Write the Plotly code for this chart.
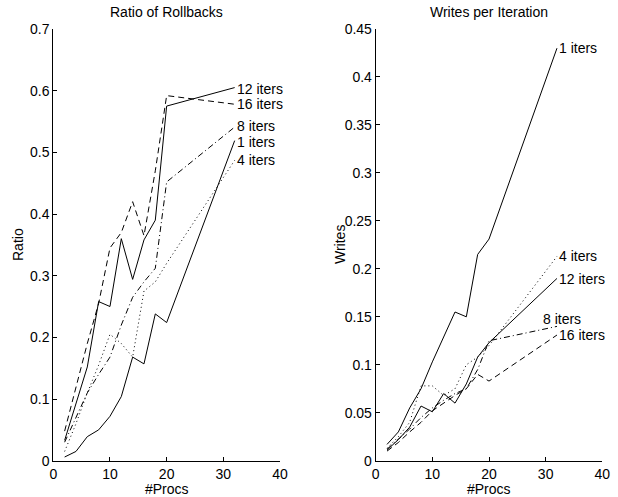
import plotly.graph_objects as go


# ==========================================================
# Data
# ==========================================================

procs = [2, 4, 6, 8, 10, 12, 14, 16, 18, 20, 32]

series_names = ["1 iters", "4 iters", "8 iters", "12 iters", "16 iters"]

# Ratio of rollbacks
ratio_1 = [0.006, 0.015, 0.039, 0.050, 0.072, 0.104, 0.168, 0.157, 0.238, 0.224, 0.519]
ratio_4 = [0.015, 0.060, 0.110, 0.155, 0.205, 0.190, 0.168, 0.275, 0.290, 0.320, 0.487]
ratio_8 = [0.030, 0.070, 0.110, 0.140, 0.168, 0.220, 0.265, 0.290, 0.312, 0.452, 0.541]
ratio_12 = [0.033, 0.092, 0.152, 0.258, 0.250, 0.360, 0.294, 0.358, 0.390, 0.575, 0.605]
ratio_16 = [0.048, 0.120, 0.190, 0.255, 0.345, 0.370, 0.420, 0.365, 0.470, 0.592, 0.578]

# Writes per iteration
writes_1 = [0.017, 0.030, 0.055, 0.075, 0.103, 0.129, 0.155, 0.150, 0.215, 0.231, 0.430]
writes_4 = [0.013, 0.025, 0.040, 0.078, 0.078, 0.068, 0.075, 0.100, 0.108, 0.120, 0.213]
writes_8 = [0.012, 0.022, 0.033, 0.045, 0.055, 0.063, 0.070, 0.075, 0.095, 0.125, 0.140]
writes_12 = [0.011, 0.022, 0.035, 0.057, 0.051, 0.070, 0.060, 0.080, 0.108, 0.123, 0.190]
writes_16 = [0.010, 0.019, 0.030, 0.040, 0.052, 0.060, 0.068, 0.075, 0.090, 0.083, 0.131]

ratio_ticks = [0, 0.1, 0.2, 0.3, 0.4, 0.5, 0.6, 0.7]
writes_ticks = [0, 0.05, 0.1, 0.15, 0.2, 0.25, 0.3, 0.35, 0.4, 0.45]
proc_ticks = [0, 10, 20, 30, 40]

ratio_data = [ratio_1, ratio_4, ratio_8, ratio_12, ratio_16]
writes_data = [writes_1, writes_4, writes_8, writes_12, writes_16]

# ==========================================================
# Styling
# ==========================================================

W, H = 618, 497


def px(x):
    return x / W


def py(y):
    return 1 - y / H


FONT = "Liberation Sans, Arial, Helvetica, sans-serif"
dashes = {
    "1 iters": "solid",
    "4 iters": "1px,3px",
    "8 iters": "6px,3px,1px,3px",
    "12 iters": "solid",
    "16 iters": "6px,4px",
}

# end label positions
ratio_label_y = {"1 iters": 0.517, "4 iters": 0.487, "8 iters": 0.543,
                 "12 iters": 0.603, "16 iters": 0.579}
writes_label_y = {"1 iters": 0.430, "4 iters": 0.213, "8 iters": 0.148,
                  "12 iters": 0.189, "16 iters": 0.131}
writes_label_x = {"1 iters": 32, "4 iters": 32, "8 iters": 29.2,
                  "12 iters": 32, "16 iters": 32}

fig = go.Figure()

for name, vals in zip(series_names, ratio_data):
    fig.add_trace(go.Scatter(
        x=procs, y=vals, mode="lines", name=name,
        line={"color": "black", "width": 1, "dash": dashes[name]},
        xaxis="x", yaxis="y", showlegend=False,
    ))

for name, vals in zip(series_names, writes_data):
    fig.add_trace(go.Scatter(
        x=procs, y=vals, mode="lines", name=name,
        line={"color": "black", "width": 1, "dash": dashes[name]},
        xaxis="x2", yaxis="y2", showlegend=False,
    ))

annotations = []

for name in series_names:
    annotations.append(dict(
        x=procs[-1], y=ratio_label_y[name], xref="x", yref="y",
        text=name, showarrow=False, xanchor="left", yanchor="middle",
        font={"size": 14, "color": "black", "family": FONT},
    ))
    annotations.append(dict(
        x=writes_label_x[name], y=writes_label_y[name], xref="x2", yref="y2",
        text=name, showarrow=False, xanchor="left", yanchor="middle",
        font={"size": 14, "color": "black", "family": FONT},
    ))

# titles and axis labels (target pixel positions)
for text, x, y, angle in [
    ("Ratio of Rollbacks", 166.7, 12, 0),
    ("Writes per Iteration", 489, 12, 0),
    ("#Procs", 166.7, 489, 0),
    ("#Procs", 489, 489, 0),
    ("Ratio", 18, 245, -90),
    ("Writes", 340, 245, -90),
]:
    annotations.append(dict(
        x=px(x), y=py(y), xref="paper", yref="paper",
        text=text, showarrow=False, xanchor="center", yanchor="middle",
        textangle=angle,
        font={"size": 14, "color": "black", "family": FONT},
    ))

axis_common = dict(
    showline=True, linecolor="black", linewidth=1,
    ticks="inside", ticklen=4, tickcolor="black", tickwidth=1,
    showgrid=False, zeroline=False, mirror=False,
    tickfont={"size": 14, "color": "black", "family": FONT},
    automargin=False,
)

y_dom = [py(460.7), py(29)]

fig.update_layout(
    width=W, height=H,
    margin={"l": 0, "r": 0, "t": 0, "b": 0},
    paper_bgcolor="white", plot_bgcolor="white",
    font={"family": FONT, "size": 14, "color": "black"},
    xaxis=dict(axis_common, domain=[px(53.3), px(280)], range=[0, 40],
               tickvals=proc_ticks, anchor="y"),
    yaxis=dict(axis_common, domain=y_dom, range=[0, 0.7],
               tickvals=ratio_ticks, anchor="x"),
    xaxis2=dict(axis_common, domain=[px(375.7), px(602.3)], range=[0, 40],
                tickvals=proc_ticks, anchor="y2"),
    yaxis2=dict(axis_common, domain=y_dom, range=[0, 0.45],
                tickvals=writes_ticks, anchor="x2"),
    annotations=annotations,
)

# drop the default page margin so the figure sits at the window's corner
fig.write_html(
    "out.html",
    config={"displayModeBar": False},
    post_script="document.body.style.margin = '0';",
)
